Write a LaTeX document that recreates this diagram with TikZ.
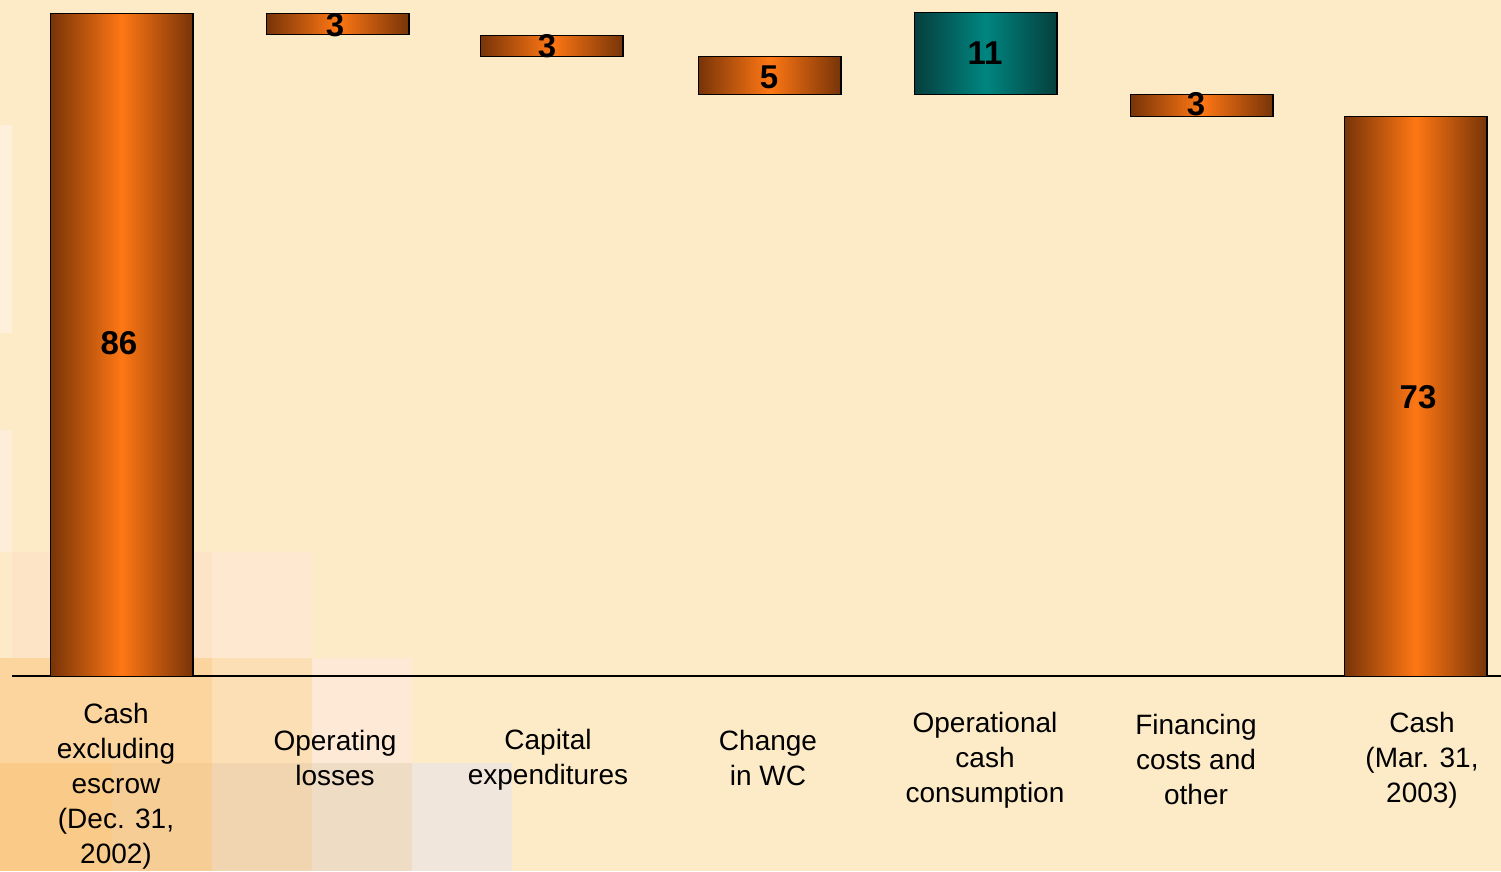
\documentclass[tikz,border=0pt]{standalone}
\usepackage{fontspec}
\setmainfont{Liberation Sans}
\definecolor{bg}{HTML}{FDEBC8}
\definecolor{barEdge}{HTML}{783408}
\definecolor{barMid}{HTML}{FF7714}
\definecolor{tealEdge}{HTML}{053F3D}
\definecolor{tealMid}{HTML}{008580}
\definecolor{sqA}{HTML}{FEF0DB}
\definecolor{sqB}{HTML}{FEEDD9}
\definecolor{sqC}{HTML}{FDE4C6}
\definecolor{sqD}{HTML}{FEE8D0}
\definecolor{sqE}{HTML}{FBD49E}
\definecolor{sqF}{HTML}{FDDFB5}
\definecolor{sqG}{HTML}{FDE9D5}
\definecolor{sqH}{HTML}{FACB88}
\definecolor{sqI}{HTML}{F7CD96}
\definecolor{sqJ}{HTML}{F0D5B0}
\definecolor{sqK}{HTML}{EFDCC5}
\definecolor{sqL}{HTML}{F0E6DC}
\tikzset{
  barbox/.style={draw=black, line width=1.6pt, inner sep=0pt, anchor=north west,
    minimum width=142.5pt, left color=barEdge, right color=barEdge, middle color=barMid},
  tealbox/.style={draw=black, line width=1.6pt, inner sep=0pt, anchor=north west,
    minimum width=142.5pt, left color=tealEdge, right color=tealEdge, middle color=tealMid},
  num/.style={font=\fontsize{33}{36}\selectfont\bfseries, inner sep=0pt},
  lab/.style={font=\fontsize{28}{35}\selectfont, align=center, inner sep=0pt}
}
\begin{document}
\begin{tikzpicture}[x=1pt,y=-1pt]
\fill[bg] (0,0) rectangle (1501,871);
\useasboundingbox (0,0) rectangle (1501,871);
% faint background squares
\fill[sqA] (0,125) rectangle (12,333);
\fill[sqB] (0,430) rectangle (12,552);
\fill[sqC] (12,552) rectangle (212,658);
\fill[sqD] (212,552) rectangle (312,658);
\fill[sqE] (0,658) rectangle (212,763);
\fill[sqF] (212,658) rectangle (312,763);
\fill[sqG] (312,658) rectangle (412,763);
\fill[sqH] (0,763) rectangle (112,871);
\fill[sqI] (112,763) rectangle (212,871);
\fill[sqJ] (212,763) rectangle (312,871);
\fill[sqK] (312,763) rectangle (412,871);
\fill[sqL] (412,763) rectangle (512,871);
% axis
\coordinate (axL) at (12,676);
\coordinate (axR) at (1501,676);
\draw[line width=1.6pt] (axL) -- (axR);
% bars
\node[barbox, minimum height=663pt] (b1) at (49.5,12.5) {};
\node[barbox, minimum height=21pt] (b2) at (265.5,12.5) {};
\node[barbox, minimum height=21pt] (b3) at (479.5,34.5) {};
\node[barbox, minimum height=38pt] (b4) at (697.5,55.5) {};
\node[tealbox, minimum height=82pt] (b5) at (913.5,11.5) {};
\node[barbox, minimum height=22pt] (b6) at (1129.5,93.5) {};
\node[barbox, minimum height=560pt] (b7) at (1343.5,115.5) {};
% values
\node[num] (v1) at (119,343) {86};
\node[num] (v2) at (335,25) {3};
\node[num] (v3) at (547,46) {3};
\node[num] (v4) at (769,77) {5};
\node[num] (v5) at (985,53) {11};
\node[num] (v6) at (1196,104) {3};
\node[num] (v7) at (1418,397) {73};
% category labels
\node[lab] (l1) at (116,786) {Cash\\excluding\\escrow\\(Dec. 31,\\2002)};
\node[lab] (l2) at (335,758) {Operating\\losses};
\node[lab] (l3) at (548,760) {Capital\\expenditures};
\node[lab] (l4) at (768,758) {Change\\in WC};
\node[lab] (l5) at (985,760) {Operational\\cash\\consumption};
\node[lab] (l6) at (1196,759) {Financing\\costs and\\other};
\node[lab] (l7) at (1422,760) {Cash\\(Mar. 31,\\2003)};
\end{tikzpicture}
\end{document}
